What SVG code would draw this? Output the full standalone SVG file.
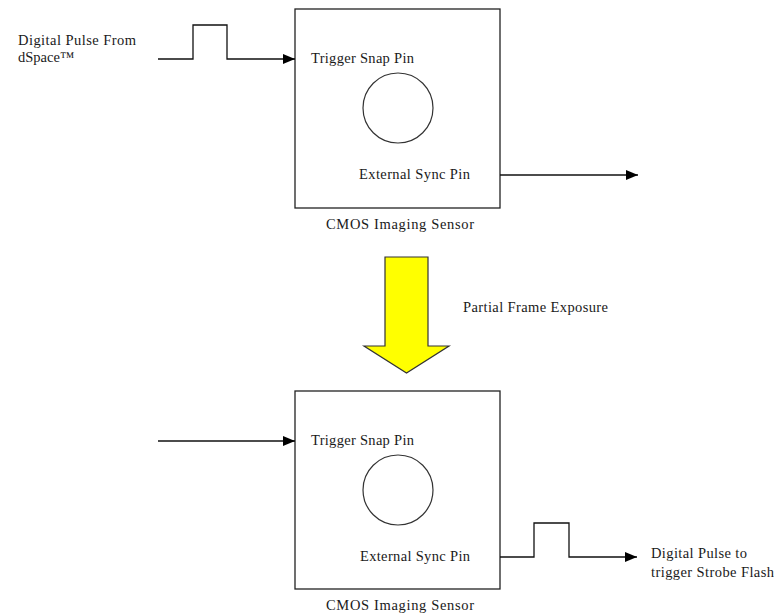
<svg xmlns="http://www.w3.org/2000/svg" width="774" height="616" viewBox="0 0 774 616">
<style>
.t{font-family:"Liberation Serif","Times New Roman",serif;font-size:14.5px;fill:#1a1a1a}
.box{fill:#fff;stroke:#222;stroke-width:1.3}
.lens{fill:none;stroke:#333;stroke-width:1.2}
.w{fill:none;stroke:#111;stroke-width:1.3}
</style>
<defs>
<marker id="ah" markerWidth="12" markerHeight="10" refX="12" refY="5" orient="auto" markerUnits="userSpaceOnUse">
<path d="M0,0 L12,5 L0,10 Z" fill="#000"/>
</marker>
</defs>
<rect width="774" height="616" fill="#fff"/>
<g id="sensor-top">
<rect class="box" x="295" y="9" width="205" height="199"/>
<circle class="lens" cx="398" cy="108" r="35"/>
<text class="t" x="311" y="63" textLength="103" lengthAdjust="spacing">Trigger Snap Pin</text>
<text class="t" x="359" y="179" textLength="111" lengthAdjust="spacing">External Sync Pin</text>
<text class="t" x="326" y="229" textLength="148" lengthAdjust="spacing">CMOS Imaging Sensor</text>
</g>
<g id="sensor-bottom">
<rect class="box" x="295" y="391" width="205" height="198"/>
<circle class="lens" cx="398" cy="490" r="35"/>
<text class="t" x="311" y="445" textLength="103" lengthAdjust="spacing">Trigger Snap Pin</text>
<text class="t" x="360" y="561" textLength="110" lengthAdjust="spacing">External Sync Pin</text>
<text class="t" x="326" y="610" textLength="148" lengthAdjust="spacing">CMOS Imaging Sensor</text>
</g>
<g id="label-dspace">
<text class="t" x="18" y="45" textLength="118" lengthAdjust="spacing">Digital Pulse From</text>
<text class="t" x="18" y="62">dSpace™</text>
</g>
<g id="label-strobe">
<text class="t" x="651" y="558" textLength="96" lengthAdjust="spacing">Digital Pulse to</text>
<text class="t" x="651" y="577" textLength="123" lengthAdjust="spacing">trigger Strobe Flash</text>
</g>
<g id="transition">
<polygon points="385,257 428,257 428,346 449,346 406.5,373 364,346 385,346" fill="#ffff00" stroke="#333" stroke-width="1.2"/>
<text class="t" x="463" y="312" textLength="145" lengthAdjust="spacing">Partial Frame Exposure</text>
</g>
<g id="connectors">
<polyline class="w" points="158,59 193,59 193,25 227,25 227,59 295,59" marker-end="url(#ah)"/>
<line class="w" x1="500" y1="175" x2="638" y2="175" marker-end="url(#ah)"/>
<line class="w" x1="158" y1="441" x2="295" y2="441" marker-end="url(#ah)"/>
<polyline class="w" points="500,557 534,557 534,523 569,523 569,557 637,557" marker-end="url(#ah)"/>
</g>
</svg>
